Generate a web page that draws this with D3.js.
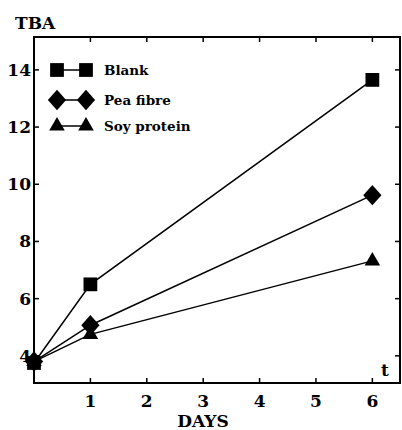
<!DOCTYPE html>
<html>
<head>
<meta charset="utf-8">
<script src="https://cdn.jsdelivr.net/npm/d3@7"></script>
<style>
  body { margin: 0; background: #fff; }
  text { font-family: "DejaVu Serif", serif; font-weight: bold; fill: #000; }
</style>
</head>
<body>
<div id="chart"></div>
<script>
// data
var days = [0, 1, 6];
var blank = [3.75, 6.5, 13.65];
var peaFibre = [3.8, 5.07, 9.62];
var soyProtein = [3.8, 4.75, 7.32];
var seriesNames = ["Blank", "Pea fibre", "Soy protein"];
var xTicks = [1, 2, 3, 4, 5, 6];
var yTicks = [4, 6, 8, 10, 12, 14];

(function() {
    var width = 402, height = 430,
        left = 34, right = 400, top = 37, bottom = 383;

    var svg = d3.select("#chart").append("svg")
        .attr("width", width).attr("height", height);

    var x = d3.scaleLinear().domain([0, 6.49]).range([left, right]);
    var y = d3.scaleLinear().domain([3.05, 15.15]).range([bottom, top]);

    // frame
    svg.append("rect")
        .attr("x", left).attr("y", top)
        .attr("width", right - left).attr("height", bottom - top)
        .attr("fill", "none").attr("stroke", "#000").attr("stroke-width", 2);

    // inward ticks, all four sides
    var tk = 5;
    xTicks.forEach(function(d) {
        svg.append("line").attr("x1", x(d)).attr("x2", x(d))
            .attr("y1", bottom).attr("y2", bottom - tk)
            .attr("stroke", "#000").attr("stroke-width", 1.5);
        svg.append("line").attr("x1", x(d)).attr("x2", x(d))
            .attr("y1", top).attr("y2", top + tk)
            .attr("stroke", "#000").attr("stroke-width", 1.5);
        svg.append("text").attr("x", x(d)).attr("y", 407)
            .attr("text-anchor", "middle").attr("font-size", 17).text(d);
    });
    yTicks.forEach(function(d) {
        svg.append("line").attr("x1", left).attr("x2", left + tk)
            .attr("y1", y(d)).attr("y2", y(d))
            .attr("stroke", "#000").attr("stroke-width", 1.5);
        svg.append("line").attr("x1", right).attr("x2", right - tk)
            .attr("y1", y(d)).attr("y2", y(d))
            .attr("stroke", "#000").attr("stroke-width", 1.5);
        svg.append("text").attr("x", left - 3).attr("y", y(d) + 6)
            .attr("text-anchor", "end").attr("font-size", 17).text(d);
    });

    svg.append("text").attr("x", 15).attr("y", 29).attr("font-size", 17).text("TBA");
    svg.append("text").attr("x", 203).attr("y", 427)
        .attr("text-anchor", "middle").attr("font-size", 17).text("DAYS");
    svg.append("text").attr("x", 381).attr("y", 376).attr("font-size", 17).text("t");

    var symbols = [d3.symbolSquare, d3.symbolDiamond, d3.symbolTriangle];
    var sizes = [190, 120, 105];
    var allSeries = [blank, peaFibre, soyProtein];

    var line = d3.line()
        .x(function(d, i) { return x(days[i]); })
        .y(function(d) { return y(d); });

    function marker(k, cx, cy) {
        var g = svg.append("path")
            .attr("d", d3.symbol().type(symbols[k]).size(sizes[k]))
            .attr("fill", "#000");
        // d3 diamond is narrow, the figure's is nearly square
        if (k === 1) g.attr("transform", "translate(" + cx + "," + cy + ") scale(1.55,1)");
        else g.attr("transform", "translate(" + cx + "," + cy + ")");
    }

    allSeries.forEach(function(vals, k) {
        svg.append("path").datum(vals)
            .attr("d", line)
            .attr("fill", "none").attr("stroke", "#000").attr("stroke-width", 1.5);
        vals.forEach(function(v, i) { marker(k, x(days[i]), y(v)); });
    });

    // legend
    var legY = [70, 100, 126];
    seriesNames.forEach(function(name, k) {
        svg.append("line").attr("x1", 57).attr("x2", 86)
            .attr("y1", legY[k]).attr("y2", legY[k])
            .attr("stroke", "#000").attr("stroke-width", 1.5);
        marker(k, 57, legY[k]);
        marker(k, 86, legY[k]);
        svg.append("text").attr("x", 104).attr("y", legY[k] + 5)
            .attr("font-size", 13.5).text(name);
    });
})();
</script>
</body>
</html>
